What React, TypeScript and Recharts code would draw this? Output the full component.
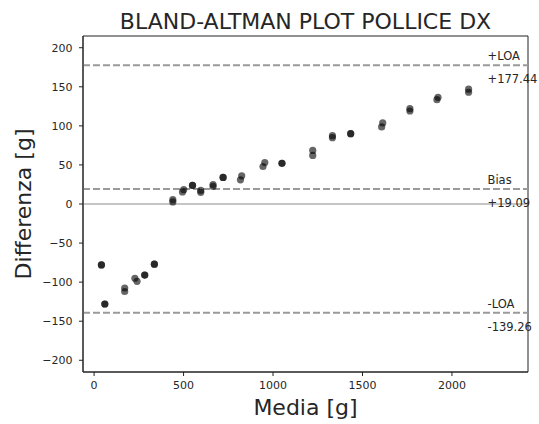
import { ScatterChart, Scatter, XAxis, YAxis, ReferenceLine, ReferenceArea } from 'recharts'

// mean of the two weighings (x) and their difference (y), two points per subject
const MEANS = [
  41, 41, 60, 60, 171, 171, 228, 240, 283, 283, 337, 337, 440, 440, 494, 501,
  550, 550, 596, 596, 665, 665, 721, 721, 818, 825, 944, 954, 1050, 1050,
  1222, 1222, 1332, 1332, 1434, 1434, 1607, 1613, 1765, 1765, 1916, 1922, 2093, 2093,
]
const DIFFS = [
  -78, -78, -128, -128, -107.5, -112, -95, -99, -91, -91, -77, -77, 5.5, 2.6, 15.4, 18.3,
  23.8, 23.8, 14.9, 17.4, 22.5, 24.7, 34, 34, 31, 36, 48, 53, 52, 52,
  68.6, 62.2, 87.5, 84.9, 90, 90, 98.6, 103.7, 122, 119, 133.5, 136.5, 147, 143,
]

const BIAS = 19.09
const UPPER_LOA = 177.44
const LOWER_LOA = -139.26

const X_TICKS = [0, 500, 1000, 1500, 2000]
const Y_TICKS = [-200, -150, -100, -50, 0, 50, 100, 150, 200]
const X_DOMAIN: [number, number] = [-62, 2425]
const Y_DOMAIN: [number, number] = [-215, 215]

const FONT = '"DejaVu Sans", sans-serif'
const TEXT = '#262626'

const points = MEANS.map((m, i) => ({ mean: m, diff: DIFFS[i] }))

function LineLabel(props: any) {
  const { viewBox, top, bottom } = props
  if (!viewBox) return null
  const x = viewBox.x + viewBox.width - 40.5
  const y = viewBox.y
  return (
    <g fontFamily={FONT} fontSize={11.5} fill={TEXT}>
      <text x={x} y={y - 5}>{top}</text>
      <text x={x} y={y + 18}>{bottom}</text>
    </g>
  )
}

function Dot(props: any) {
  return <circle cx={props.cx} cy={props.cy} r={3.6} fill="#000" fillOpacity={0.6} />
}

export default function App() {
  const tickStyle = { fontSize: 11, fontFamily: FONT, fill: TEXT }
  return (
    <div style={{ position: 'absolute', left: 0, top: 0, width: 539, height: 424, background: '#fff' }}>
      <div
        style={{
          position: 'absolute',
          left: 83,
          top: 11,
          width: 445,
          textAlign: 'center',
          fontFamily: FONT,
          fontSize: 22,
          lineHeight: '22px',
          color: TEXT,
          whiteSpace: 'nowrap',
        }}
      >
        BLAND-ALTMAN PLOT POLLICE DX
      </div>
      <ScatterChart width={539} height={424} margin={{ top: 36, right: 11, bottom: 0, left: 0 }}>
        <XAxis
          type="number"
          dataKey="mean"
          domain={X_DOMAIN}
          ticks={X_TICKS}
          allowDataOverflow
          height={52}
          tickSize={4}
          tickMargin={5}
          tick={tickStyle}
          stroke="#222"
          label={{ value: 'Media [g]', position: 'insideBottom', offset: 9, fontSize: 22, fontFamily: FONT, fill: TEXT }}
        />
        <YAxis
          type="number"
          dataKey="diff"
          domain={Y_DOMAIN}
          ticks={Y_TICKS}
          allowDataOverflow
          width={83}
          tickSize={4}
          tickMargin={6.5}
          tick={tickStyle}
          stroke="#222"
          tickFormatter={(v: number) => String(v).replace('-', '\u2212')}
          label={(p: any) => (
            <text
              x={31}
              y={204}
              transform="rotate(-90 31 204)"
              textAnchor="middle"
              fontSize={22}
              fontFamily={FONT}
              fill={TEXT}
            >
              Differenza [g]
            </text>
          )}
        />
        <ReferenceArea
          x1={X_DOMAIN[0]}
          x2={X_DOMAIN[1]}
          y1={Y_DOMAIN[0]}
          y2={Y_DOMAIN[1]}
          fill="none"
          stroke="#222"
          strokeWidth={1}
        />
        <ReferenceLine y={0} stroke="#8c8c8c" strokeWidth={1.2} />
        <ReferenceLine
          y={UPPER_LOA}
          stroke="#9a9a9a"
          strokeWidth={2}
          strokeDasharray="7 3"
          label={<LineLabel top="+LOA" bottom={`+${UPPER_LOA.toFixed(2)}`} />}
        />
        <ReferenceLine
          y={BIAS}
          stroke="#9a9a9a"
          strokeWidth={2}
          strokeDasharray="7 3"
          label={<LineLabel top="Bias" bottom={`+${BIAS.toFixed(2)}`} />}
        />
        <ReferenceLine
          y={LOWER_LOA}
          stroke="#9a9a9a"
          strokeWidth={2}
          strokeDasharray="7 3"
          label={<LineLabel top="-LOA" bottom={LOWER_LOA.toFixed(2)} />}
        />
        <Scatter data={points} shape={<Dot />} isAnimationActive={false} />
      </ScatterChart>
    </div>
  )
}
